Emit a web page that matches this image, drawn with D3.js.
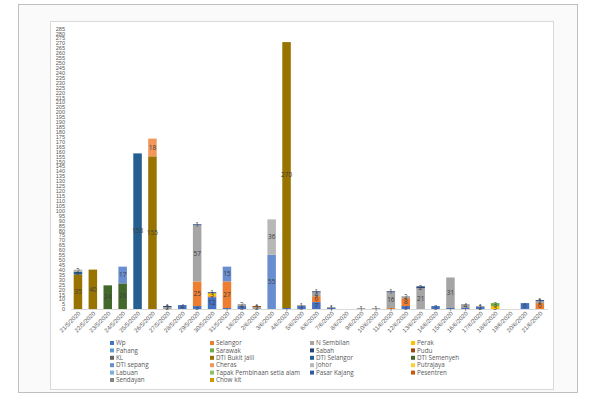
<!DOCTYPE html>
<html>
<head>
<meta charset="utf-8">
<script src="https://cdn.jsdelivr.net/npm/d3@7/dist/d3.min.js"></script>
<style>
  html, body { margin: 0; padding: 0; background: #fff; }
  svg { display: block; font-family: "Open Sans", "Noto Sans", sans-serif; }
</style>
</head>
<body>
<div id="chart"></div>
<script>
// ---- data ----
var dates = ['21/5/2020','22/5/2020','23/5/2020','24/5/2020','25/5/2020','26/5/2020','27/5/2020',
  '28/5/2020','29/5/2020','30/5/2020','31/5/2020','1/6/2020','2/6/2020','3/6/2020','4/6/2020',
  '5/6/2020','6/6/2020','7/6/2020','8/6/2020','9/6/2020','10/6/2020','11/6/2020','12/6/2020',
  '13/6/2020','14/6/2020','15/6/2020','16/6/2020','17/6/2020','18/6/2020','19/6/2020','20/6/2020','21/6/2020'];

var seriesNames = ['Wp','Selangor','N Sembilan','Perak','Pahang','Sarawak','Sabah','Pudu','KL',
  'DTI Bukit Jalil','DTI Selangor','DTI Semenyeh','DTI sepang','Cheras','Johor','Putrajaya',
  'Labuan','Tapak Pembinaan setia alam','Pasar Kajang','Pesentren','Sendayan','Chow kit'];

var seriesColors = ['#4472C4','#ED7D31','#A5A5A5','#FFC000','#5B9BD5','#70AD47','#264478','#9E480E',
  '#636363','#997300','#255E91','#43682B','#698ED0','#F1975A','#B7B7B7','#FFCD33','#7CAFDD',
  '#8CC168','#335AA1','#C55A11','#848484','#CC9A00'];

// one row per series, one value per date
var seriesValues = [
  [0,0,0,0,0,0,0,4,3,12,1,3,0,0,1,3,7,1,0,0,0,0,3,0,3,1,1,2,0,0,6,0],      // Wp
  [0,0,0,0,0,0,0,0,25,1,27,0,0,0,0,0,6,0,0,0,0,1,8,0,0,0,0,0,0,0,0,6],     // Selangor
  [0,0,0,0,0,0,2,0,57,0,0,2,2,0,0,1,4,1,0,1,1,16,2,21,0,31,4,1,0,0,0,2],   // N Sembilan
  [0,0,0,0,0,0,0,0,0,3,0,0,0,0,0,0,0,0,0,0,0,0,0,0,0,0,0,0,3,0,0,0],       // Perak
  [0,0,0,0,0,0,0,0,0,0,0,0,0,0,0,0,0,0,0,0,0,0,0,0,0,0,0,0,0,0,0,0],       // Pahang
  [0,0,0,0,0,0,0,0,0,0,0,0,0,0,0,0,0,0,0,0,0,0,0,0,0,0,0,0,3,0,0,0],       // Sarawak
  [0,0,0,0,0,0,1,0,1,1,0,0,0,0,0,0,1,0,0,0,0,1,0,2,0,0,0,0,0,0,0,1],       // Sabah
  [0,0,0,0,0,0,0,0,0,0,0,0,1,0,0,0,0,0,0,0,0,0,0,0,0,0,0,0,0,0,0,0],       // Pudu
  [0,0,0,0,0,0,0,0,0,0,0,0,0,0,0,0,0,0,0,0,0,0,0,0,0,0,0,0,0,0,0,0],       // KL
  [35,40,0,0,0,155,0,0,0,0,0,0,0,0,270,0,0,0,0,0,0,0,0,0,0,0,0,0,0,0,0,0], // DTI Bukit Jalil
  [3,0,0,0,158,0,0,0,0,0,0,0,0,0,0,0,0,0,0,0,0,0,0,0,0,0,0,0,0,0,0,0],     // DTI Selangor
  [0,0,24,26,0,0,0,0,0,0,0,0,0,0,0,0,0,0,0,0,0,0,0,0,0,0,0,0,0,0,0,0],     // DTI Semenyeh
  [0,0,0,17,0,0,0,0,0,0,15,0,0,55,0,0,0,0,0,0,0,0,0,0,0,0,0,0,0,0,0,0],    // DTI sepang
  [0,0,0,0,0,18,0,0,0,0,0,0,0,0,0,0,0,0,0,0,0,0,0,0,0,0,0,0,0,0,0,0],      // Cheras
  [2,0,0,0,0,0,0,0,0,0,0,0,0,36,0,0,0,0,0,0,0,0,0,0,0,0,0,0,0,0,0,0],      // Johor
  [0,0,0,0,0,0,0,0,0,0,0,0,0,0,0,0,0,0,0,0,0,0,0,0,0,0,0,0,0,0,0,0],       // Putrajaya
  [0,0,0,0,0,0,0,0,0,0,0,0,0,0,0,0,0,0,0,0,0,0,0,0,0,0,0,0,0,0,0,0],       // Labuan
  [0,0,0,0,0,0,0,0,0,0,0,0,0,0,0,0,0,0,0,0,0,0,0,0,0,0,0,0,0,0,0,0],       // Tapak Pembinaan setia alam
  [0,0,0,0,0,0,0,0,0,0,0,0,0,0,0,0,0,0,0,0,0,0,0,0,0,0,0,0,0,0,0,0],       // Pasar Kajang
  [0,0,0,0,0,0,0,0,0,0,0,0,0,0,0,0,0,0,0,0,0,0,0,0,0,0,0,0,0,0,0,0],       // Pesentren
  [0,0,0,0,0,0,0,0,0,0,0,0,0,0,0,0,0,0,0,0,0,0,0,0,0,0,0,0,0,0,0,0],       // Sendayan
  [0,0,0,0,0,0,0,0,0,0,0,0,0,0,0,0,0,0,0,0,0,0,0,0,0,0,0,0,0,0,0,0]        // Chow kit
];

var yMax = 285, yStep = 5;

// ---- drawing ----
var W = 600, H = 397;
var svg = d3.select('#chart').append('svg').attr('width', W).attr('height', H);

// outer frame + chart area
svg.append('rect').attr('x', 18.5).attr('y', 4.5).attr('width', 559).attr('height', 388)
  .attr('fill', '#fafafa').attr('stroke', '#bfbfbf');
svg.append('rect').attr('x', 50.5).attr('y', 21.5).attr('width', 503).attr('height', 368)
  .attr('fill', '#fff').attr('stroke', '#d9d9d9');

var x = d3.scaleBand().domain(dates).range([70.5, 547.3])
  .paddingInner(0.4286).paddingOuter(0.2143);
var y = d3.scaleLinear().domain([0, yMax]).range([309, 28.3]);

var rows = dates.map(function (d, i) {
  var r = { date: d };
  seriesNames.forEach(function (s, k) { r[s] = seriesValues[k][i]; });
  return r;
});
var stacked = d3.stack().keys(seriesNames)(rows);

// y axis (labels only)
var yAxis = d3.axisLeft(y).tickValues(d3.range(0, yMax + 1, yStep)).tickSize(0).tickPadding(0);
var gy = svg.append('g').attr('transform', 'translate(65,0)').call(yAxis);
gy.select('.domain').remove();
gy.selectAll('text').attr('fill', '#595959').style('font-size', '5.6px');

// category axis
var xAxis = d3.axisBottom(x).tickSize(0).tickPadding(0);
var gx = svg.append('g').attr('transform', 'translate(0,309)').call(xAxis);
gx.select('.domain').attr('stroke', '#d9d9d9');
gx.selectAll('text')
  .attr('fill', '#595959').style('font-size', '6px')
  .attr('text-anchor', 'end').attr('dy', null).attr('y', 0)
  .attr('transform', 'translate(3,5) rotate(-45)');

// bars
var layers = svg.append('g').selectAll('g').data(stacked).join('g')
  .attr('fill', function (d, i) { return seriesColors[i]; });
layers.selectAll('rect').data(function (d) { return d.filter(function (p) { return p[1] - p[0] > 0; }); })
  .join('rect')
  .attr('x', function (p) { return x(p.data.date); })
  .attr('width', x.bandwidth())
  .attr('y', function (p) { return y(p[1]); })
  .attr('height', function (p) { return y(p[0]) - y(p[1]); });

// data labels
layers.selectAll('text').data(function (d) { return d.filter(function (p) { return p[1] - p[0] > 0; }); })
  .join('text')
  .attr('x', function (p) { return x(p.data.date) + x.bandwidth() / 2; })
  .attr('y', function (p) { return (y(p[0]) + y(p[1])) / 2; })
  .attr('dy', '0.35em')
  .attr('text-anchor', 'middle')
  .attr('fill', '#404040')
  .style('font-size', '6.5px')
  .text(function (p) { return p[1] - p[0]; });

// legend, 4 columns, filled row by row
var legX = [112, 212, 312, 413];
var leg = svg.append('g').selectAll('g').data(seriesNames).join('g')
  .attr('transform', function (d, i) {
    return 'translate(' + legX[i % 4] + ',' + (343 + Math.floor(i / 4) * 7.4) + ')';
  });
leg.append('rect').attr('x', -2).attr('y', -2).attr('width', 4).attr('height', 4)
  .attr('fill', function (d, i) { return seriesColors[i]; });
leg.append('text').attr('x', 4).attr('dy', '0.35em')
  .attr('fill', '#595959').style('font-size', '6.3px')
  .text(function (d) { return d; });
</script>
</body>
</html>
